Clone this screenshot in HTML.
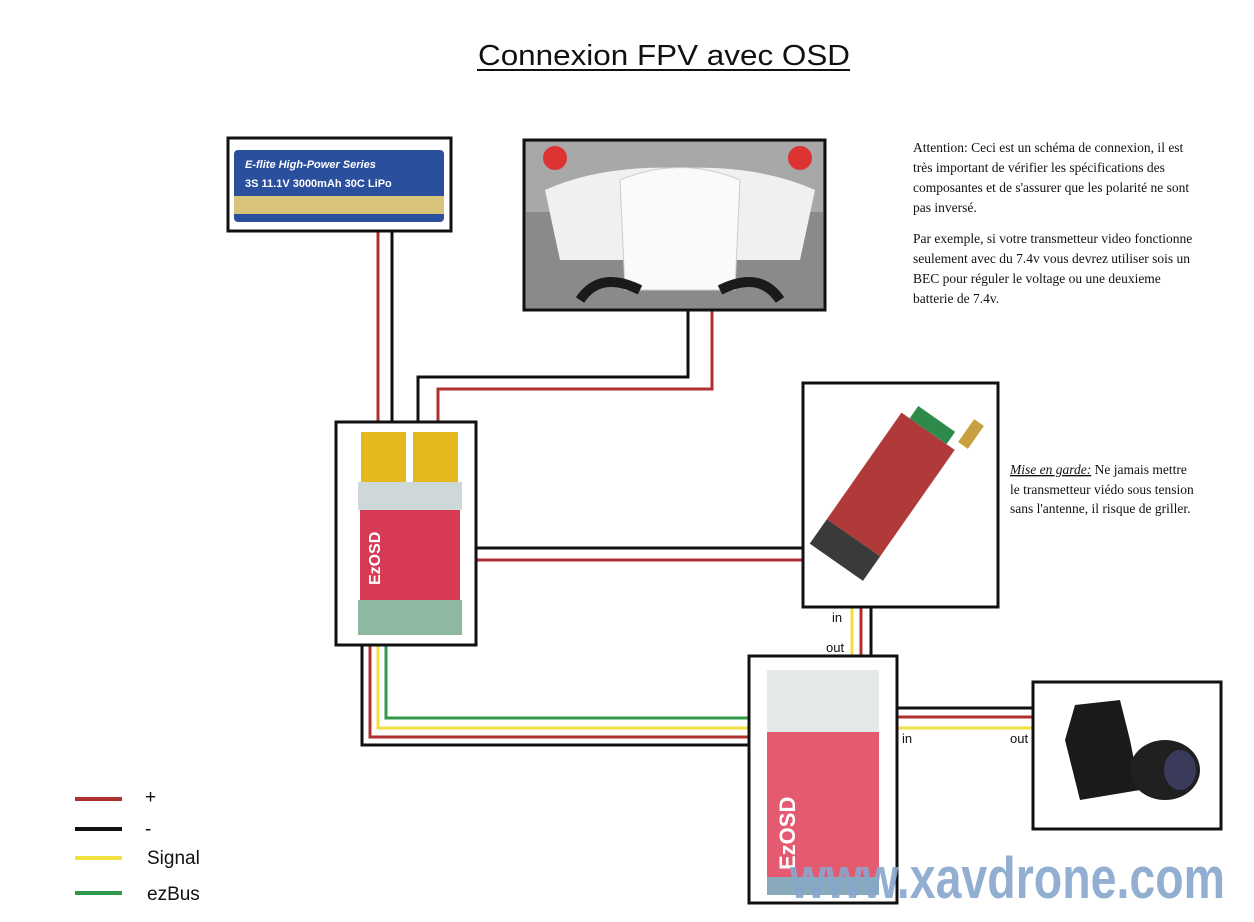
<!DOCTYPE html>
<html><head><meta charset="utf-8"><style>
html,body{margin:0;padding:0;background:#fff;width:1254px;height:922px;overflow:hidden}
svg{display:block}
.s{font-family:"Liberation Serif",serif;font-size:13.5px;fill:#111}
.a{font-family:"Liberation Sans",sans-serif;fill:#111}
</style></head><body>
<svg width="1254" height="922" viewBox="0 0 1254 922" xmlns="http://www.w3.org/2000/svg">
<text x="478" y="65" class="a" font-size="29" textLength="372" lengthAdjust="spacingAndGlyphs">Connexion FPV avec OSD</text>
<line x1="477" y1="70" x2="850" y2="70" stroke="#111" stroke-width="2"/>

<text class="s" x="913" y="152">Attention: Ceci est un schéma de connexion, il est</text>
<text class="s" x="913" y="172">très important de vérifier les spécifications des</text>
<text class="s" x="913" y="192">composantes et de s'assurer que les polarité ne sont</text>
<text class="s" x="913" y="212">pas inversé.</text>
<text class="s" x="913" y="243"> Par exemple, si votre transmetteur video fonctionne</text>
<text class="s" x="913" y="263">seulement avec du 7.4v vous devrez utiliser sois un</text>
<text class="s" x="913" y="283">BEC pour réguler le voltage ou une deuxieme</text>
<text class="s" x="913" y="303">batterie de 7.4v.</text>
<text class="s" x="1010" y="474"><tspan font-style="italic" text-decoration="underline">Mise en garde:</tspan> Ne jamais mettre</text>
<text class="s" x="1010" y="494">le transmetteur viédo sous tension</text>
<text class="s" x="1010" y="513">sans l'antenne, il risque de griller.</text>

<g fill="none" stroke-width="3">
<polyline points="378,231 378,466" stroke="#b03030"/>
<polyline points="392,231 392,470" stroke="#111"/>
<polyline points="688,310 688,377 418,377 418,468" stroke="#111"/>
<polyline points="712,310 712,389 438,389 438,465" stroke="#b03030"/>
<line x1="476" y1="548" x2="803" y2="548" stroke="#111"/>
<line x1="476" y1="560" x2="803" y2="560" stroke="#b03030"/>
<polyline points="362,645 362,745 749,745" stroke="#111"/>
<polyline points="370,645 370,737 749,737" stroke="#b03030"/>
<polyline points="378,645 378,728 749,728" stroke="#f0e040"/>
<polyline points="386,645 386,718 749,718" stroke="#2e9a4a"/>
<line x1="852" y1="607" x2="852" y2="656" stroke="#f0e040"/>
<line x1="861" y1="607" x2="861" y2="656" stroke="#b03030"/>
<line x1="871" y1="607" x2="871" y2="656" stroke="#111"/>
<line x1="897" y1="708" x2="1033" y2="708" stroke="#111"/>
<line x1="897" y1="717" x2="1033" y2="717" stroke="#b03030"/>
<line x1="897" y1="728" x2="1033" y2="728" stroke="#f0e040"/>
</g>
<text class="a" font-size="13" x="832" y="622">in</text>
<text class="a" font-size="13" x="826" y="652">out</text>
<text class="a" font-size="13" x="902" y="743">in</text>
<text class="a" font-size="13" x="1010" y="743">out</text>

<rect x="228" y="138" width="223" height="93" fill="#fff" stroke="#111" stroke-width="3"/>
<rect x="234" y="150" width="210" height="72" rx="4" fill="#2a4f9c"/>
<rect x="234" y="196" width="210" height="18" fill="#d9c27a"/>
<text x="245" y="168" font-family="Liberation Sans" font-size="11" font-style="italic" font-weight="bold" fill="#fff">E-flite  High-Power Series</text>
<text x="245" y="187" font-family="Liberation Sans" font-size="11" font-weight="bold" fill="#fff">3S 11.1V 3000mAh 30C LiPo</text>

<rect x="524" y="140" width="301" height="170" fill="#8a8a8a" stroke="#111" stroke-width="3"/>
<rect x="526" y="142" width="297" height="70" fill="#a8a8a8"/>
<path d="M545 190 Q600 165 680 168 Q760 165 815 190 L800 260 L560 260 Z" fill="#f0f0f0"/>
<path d="M620 180 Q680 155 740 180 L735 290 L625 290 Z" fill="#fafafa" stroke="#ccc"/>
<path d="M580 300 Q600 270 640 290 M780 300 Q760 270 720 290" stroke="#1a1a1a" stroke-width="10" fill="none"/>
<circle cx="555" cy="158" r="12" fill="#d33"/><circle cx="800" cy="158" r="12" fill="#d33"/>

<rect x="336" y="422" width="140" height="223" fill="#fff" stroke="#111" stroke-width="3"/>
<rect x="361" y="432" width="45" height="50" fill="#e6b820"/>
<rect x="413" y="432" width="45" height="50" fill="#e6b820"/>
<rect x="358" y="482" width="104" height="28" fill="#cfd8d8"/>
<rect x="360" y="510" width="100" height="90" fill="#d63a55"/>
<rect x="358" y="600" width="104" height="35" fill="#8fb8a0"/>
<text x="380" y="585" transform="rotate(-90 380 585)" font-family="Liberation Sans" font-weight="bold" font-size="16" fill="#fff">EzOSD</text>

<rect x="803" y="383" width="195" height="224" fill="#fff" stroke="#111" stroke-width="3"/>
<g transform="rotate(-55 890 490)">
<rect x="830" y="455" width="130" height="65" fill="#b03a3a"/>
<rect x="800" y="455" width="30" height="65" fill="#3a3a3a"/>
<rect x="960" y="465" width="15" height="45" fill="#2e8a4a"/>
</g>
<rect x="965" y="420" width="12" height="28" fill="#c9a040" transform="rotate(35 971 434)"/>

<rect x="749" y="656" width="148" height="247" fill="#fff" stroke="#111" stroke-width="3"/>
<rect x="767" y="670" width="112" height="62" fill="#e4e8e8"/>
<rect x="767" y="732" width="112" height="145" fill="#e45a70"/>
<rect x="767" y="877" width="112" height="18" fill="#8ab"/>
<text x="795" y="870" transform="rotate(-90 795 870)" font-family="Liberation Sans" font-weight="bold" font-size="22" fill="#fff">EzOSD</text>

<rect x="1033" y="682" width="188" height="147" fill="#fff" stroke="#111" stroke-width="3"/>
<path d="M1065 740 L1075 705 L1120 700 L1130 740 L1140 790 L1080 800 Z" fill="#1a1a1a"/>
<ellipse cx="1165" cy="770" rx="35" ry="30" fill="#202020"/>
<ellipse cx="1180" cy="770" rx="16" ry="20" fill="#3a3a5a"/>

<text x="790" y="898" font-family="Liberation Sans" font-weight="bold" font-size="58" fill="#86a6cc" fill-opacity="0.9" textLength="435" lengthAdjust="spacingAndGlyphs">www.xavdrone.com</text>

<g stroke-width="4">
<line x1="75" y1="799" x2="122" y2="799" stroke="#b03030"/>
<line x1="75" y1="829" x2="122" y2="829" stroke="#111"/>
<line x1="75" y1="858" x2="122" y2="858" stroke="#f0e040"/>
<line x1="75" y1="893" x2="122" y2="893" stroke="#2e9a4a"/>
</g>
<text class="a" font-size="19" x="145" y="803">+</text>
<text class="a" font-size="19" x="145" y="835">-</text>
<text class="a" font-size="19" x="147" y="864">Signal</text>
<text class="a" font-size="19" x="147" y="900">ezBus</text>
</svg>
</body></html>
